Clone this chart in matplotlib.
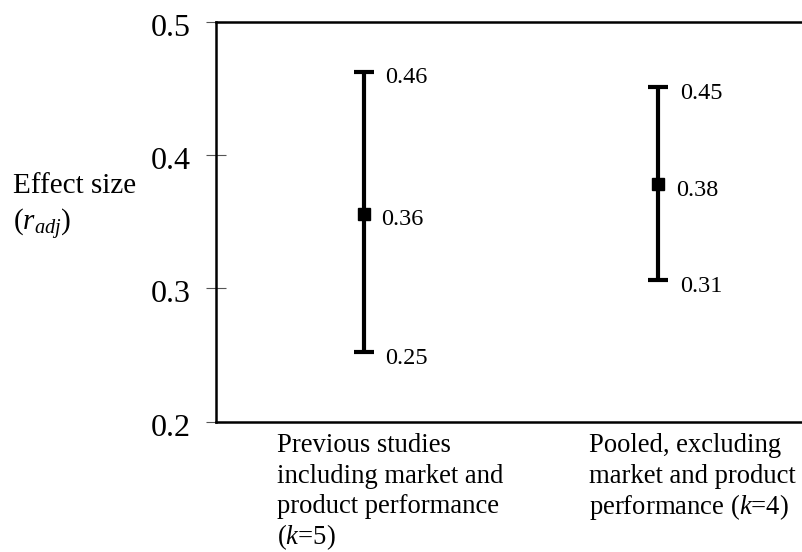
import matplotlib
matplotlib.use("Agg")
import matplotlib.pyplot as plt
import matplotlib.transforms as mtransforms

# ---- data ----
groups = [
    ["Previous studies", "including market and", "product performance",
     r"($\mathit{k}$=5)"],
    ["Pooled, excluding", "market and product",
     r"performance ($\mathit{k}$=4)"],
]
effect = [0.356, 0.378]
ci_low = [0.252, 0.306]
ci_high = [0.4625, 0.4507]
yticks = [0.2, 0.3, 0.4, 0.5]

plt.rcParams['font.family'] = ['Liberation Serif', 'DejaVu Serif']
plt.rcParams['mathtext.fontset'] = 'custom'
plt.rcParams['mathtext.rm'] = 'Liberation Serif'
plt.rcParams['mathtext.it'] = 'Liberation Serif:italic'
plt.rcParams['mathtext.default'] = 'rm'

fig = plt.figure(figsize=(8.02, 5.52), dpi=100)
ax = fig.add_axes([216/802, 1 - 421.5/552, 590/802, 400/552])

pos = [1, 3]
for i in range(len(pos)):
    ax.errorbar(pos[i], effect[i],
                yerr=[[effect[i] - ci_low[i]], [ci_high[i] - effect[i]]],
                fmt='s', color='black', ecolor='black', elinewidth=3,
                capsize=7.5, capthick=3, markersize=8)
    for v, dx in [(ci_high[i], 22), (effect[i], 18), (ci_low[i], 22)]:
        ax.annotate(f"{v:.2f}", xy=(pos[i], v), xytext=(dx * 0.72, -6 * 0.72),
                    textcoords='offset points', ha='left', va='center',
                    fontsize=17.5)

ax.set_xlim(0, 4)
ax.set_ylim(0.2, 0.5)
ax.set_yticks(yticks)
ax.set_yticklabels([f"{t:.1f}" for t in yticks], fontsize=23)
ax.tick_params(axis='y', direction='inout', length=15, width=0.8,
               color='#555555', pad=11)
shift = mtransforms.ScaledTranslation(0, -3 / 100, fig.dpi_scale_trans)
for lab in ax.get_yticklabels():
    lab.set_transform(lab.get_transform() + shift)
ax.set_xticks([])
for s in ['left', 'bottom', 'top']:
    ax.spines[s].set_linewidth(1.8)
ax.spines['right'].set_visible(False)

# category labels below the axis, one line at a time
label_x = [277, 589]
for i, lines in enumerate(groups):
    for j, line in enumerate(lines):
        fig.text(label_x[i] / 802, 1 - (443 + 30.2 * j) / 552, line,
                 ha='left', va='center_baseline', fontsize=19.2)

fig.text(13/802, 1 - 183/552, "Effect size", ha='left', va='center_baseline',
         fontsize=21)
fig.text(13/802, 1 - 219/552, r"$(\mathit{r}_{\mathit{adj}})$", ha='left',
         va='center_baseline', fontsize=21)

fig.savefig("out.png", dpi=100)
